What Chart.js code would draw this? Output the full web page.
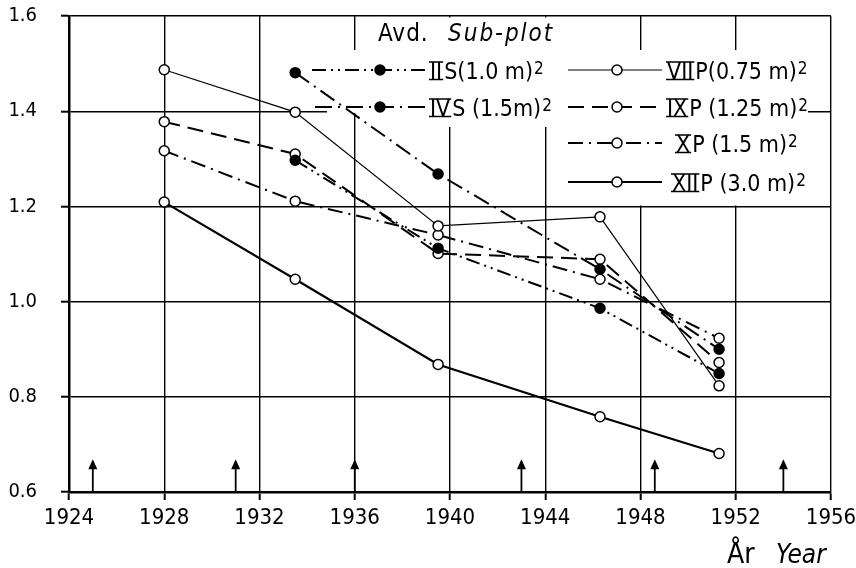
<!DOCTYPE html>
<html>
<head>
<meta charset="utf-8">
<script src="https://cdn.jsdelivr.net/npm/chart.js@4.4.0/dist/chart.umd.min.js"></script>
<style>
  html, body { margin: 0; padding: 0; background: #fff; }
</style>
</head>
<body>
<canvas id="chart" width="856" height="568"></canvas>
<script>
// Measurement years (x) and mean values per sub-plot
const years = [1928, 1933.5, 1939.5, 1946.3, 1951.3];
const subplotII = [null, 1.297, 1.112, 0.986, 0.849];
const subplotIV = [null, 1.481, 1.268, 1.068, 0.900];
const subplotVII = [1.487, 1.398, 1.159, 1.178, 0.823];
const subplotIX = [1.378, 1.310, 1.101, 1.089, 0.872];
const subplotX = [1.317, 1.211, 1.140, 1.047, 0.923];
const subplotXII = [1.209, 1.047, 0.868, 0.758, 0.681];

// Years marked with an arrow on the base line
const arrowYears = [1925, 1931, 1936, 1943, 1948.6, 1954];

// Axis ticks
const xTicks = [1924, 1928, 1932, 1936, 1940, 1944, 1948, 1952, 1956];
const yTicks = [0.6, 0.8, 1.0, 1.2, 1.4, 1.6];

// Legend text
const numerals = ["II", "IV", "VII", "IX", "X", "XII"];
const plotNames = ["S(1.0 m)", "S (1.5m)", "P(0.75 m)", "P (1.25 m)", "P (1.5 m)", "P (3.0 m)"];

const FONT = '"DejaVu Sans Condensed", "Liberation Sans Narrow", "Liberation Sans", sans-serif';

const lineStyles = [
  { dash: [14, 5, 2, 5, 2, 5], width: 2, filled: true },
  { dash: [17, 6, 2, 6], width: 2, filled: true },
  { dash: [], width: 1.2, filled: false },
  { dash: [16, 8], width: 2, filled: false },
  { dash: [15, 6, 2, 6], width: 2, filled: false },
  { dash: [], width: 2.2, filled: false },
];

const seriesValues = [subplotII, subplotIV, subplotVII, subplotIX, subplotX, subplotXII];

const toPoints = (values) =>
  years.map((x, i) => ({ x, y: values[i] })).filter((p) => p.y !== null);

const datasets = seriesValues.map((values, i) => ({
  label: numerals[i] + " " + plotNames[i],
  data: toPoints(values),
  borderColor: "#000",
  borderWidth: lineStyles[i].width,
  borderDash: lineStyles[i].dash,
  borderCapStyle: "butt",
  pointRadius: 5,
  pointBorderWidth: 1.5,
  pointBorderColor: "#000",
  pointBackgroundColor: lineStyles[i].filled ? "#000" : "#fff",
  fill: false,
  tension: 0,
}));

/**
 * Draws a legend label with a barred roman numeral and a superscript 2
 */
const drawSeriesLabel = (ctx, x, baseline, numeral, rest) => {
  ctx.font = `23px ${FONT}`;
  ctx.textAlign = "left";
  ctx.textBaseline = "alphabetic";
  ctx.fillStyle = "#000";
  const nw = ctx.measureText(numeral).width;
  ctx.fillText(numeral, x, baseline);
  ctx.setLineDash([]);
  ctx.lineWidth = 1.6;
  ctx.beginPath();
  ctx.moveTo(x - 1, baseline - 17);
  ctx.lineTo(x + nw + 1, baseline - 17);
  ctx.moveTo(x - 1, baseline + 0.5);
  ctx.lineTo(x + nw + 1, baseline + 0.5);
  ctx.stroke();
  let cx = x + nw + 2;
  ctx.fillText(rest, cx, baseline);
  cx += ctx.measureText(rest).width + 1;
  ctx.font = `17px ${FONT}`;
  ctx.fillText("2", cx, baseline - 5);
};

// Legend rows: line start/end, row centre, marker and text positions
const legendRows = [
  { x0: 312, x1: 425, y: 70, mx: 380, tx: 430 },
  { x0: 315, x1: 425, y: 107, mx: 380, tx: 430 },
  { x0: 568, x1: 662, y: 70, mx: 617, tx: 667 },
  { x0: 568, x1: 662, y: 107, mx: 617, tx: 667 },
  { x0: 568, x1: 662, y: 143, mx: 617, tx: 676 },
  { x0: 568, x1: 662, y: 182, mx: 617, tx: 672 },
];

const legendPlugin = {
  id: "insetLegend",
  beforeDatasetsDraw(chart) {
    const { ctx } = chart;
    ctx.save();
    ctx.fillStyle = "#fff";
    ctx.fillRect(327, 50, 481, 63);
    ctx.fillRect(365, 17.5, 205, 33);
    ctx.fillRect(400, 113, 408, 14);
    ctx.fillRect(560, 127, 248, 78.5);

    ctx.fillStyle = "#000";
    ctx.textBaseline = "alphabetic";
    ctx.font = `24px ${FONT}`;
    ctx.letterSpacing = "1px";
    ctx.fillText("Avd.", 378, 41);
    ctx.font = `italic 24px ${FONT}`;
    ctx.letterSpacing = "2px";
    ctx.fillText("Sub-plot", 448, 41);
    ctx.letterSpacing = "0px";

    legendRows.forEach((row, i) => {
      const style = lineStyles[i];
      ctx.strokeStyle = "#000";
      ctx.lineWidth = style.width;
      ctx.setLineDash(style.dash);
      ctx.beginPath();
      ctx.moveTo(row.x0, row.y);
      ctx.lineTo(row.x1, row.y);
      ctx.stroke();
      ctx.setLineDash([]);
      ctx.beginPath();
      ctx.arc(row.mx, row.y, 5, 0, Math.PI * 2);
      ctx.fillStyle = style.filled ? "#000" : "#fff";
      ctx.fill();
      ctx.lineWidth = 1.5;
      ctx.stroke();
      drawSeriesLabel(ctx, row.tx, row.y + 9, numerals[i], plotNames[i]);
    });
    ctx.restore();
  },
};

const arrowPlugin = {
  id: "arrows",
  afterDatasetsDraw(chart) {
    const { ctx, scales } = chart;
    const yBase = scales.y.getPixelForValue(0.6);
    const yTop = scales.y.getPixelForValue(0.669);
    ctx.save();
    ctx.strokeStyle = "#000";
    ctx.fillStyle = "#000";
    ctx.lineWidth = 1.8;
    arrowYears.forEach((yr) => {
      const px = scales.x.getPixelForValue(yr);
      ctx.beginPath();
      ctx.moveTo(px, yBase);
      ctx.lineTo(px, yTop + 6);
      ctx.stroke();
      ctx.beginPath();
      ctx.moveTo(px, yTop);
      ctx.lineTo(px - 4.5, yTop + 10);
      ctx.lineTo(px + 4.5, yTop + 10);
      ctx.closePath();
      ctx.fill();
    });
    ctx.restore();
  },
};

const axisTitlePlugin = {
  id: "axisTitle",
  afterDraw(chart) {
    const { ctx } = chart;
    ctx.save();
    ctx.fillStyle = "#000";
    ctx.textAlign = "left";
    ctx.textBaseline = "alphabetic";
    ctx.font = `28px ${FONT}`;
    ctx.fillText("År", 727, 563);
    ctx.font = `italic 26px ${FONT}`;
    ctx.fillText("Year", 776, 563);
    ctx.restore();
  },
};

const ctx = document.getElementById("chart").getContext("2d");

new Chart(ctx, {
  type: "line",
  data: { datasets },
  options: {
    responsive: false,
    animation: false,
    layout: { padding: { top: 16, right: 25, left: 0, bottom: 0 } },
    plugins: {
      legend: { display: false },
      tooltip: { enabled: false },
    },
    scales: {
      x: {
        type: "linear",
        min: 1924,
        max: 1956,
        afterBuildTicks: (axis) => {
          axis.ticks = xTicks.map((value) => ({ value }));
        },
        afterFit: (scale) => {
          scale.height = 76;
          scale.paddingLeft = 0;
          scale.paddingRight = 0;
        },
        grid: { color: "#000", lineWidth: 1.4, tickLength: 8, tickColor: "#000", tickWidth: 2 },
        border: { color: "#000", width: 2.5 },
        ticks: {
          color: "#000",
          font: { family: FONT, size: 22 },
          padding: 5,
          maxRotation: 0,
          autoSkip: false,
          callback: (value) => String(value),
        },
      },
      y: {
        min: 0.6,
        max: 1.6,
        afterBuildTicks: (axis) => {
          axis.ticks = yTicks.map((value) => ({ value }));
        },
        afterFit: (scale) => {
          scale.width = 69;
          scale.paddingTop = 0;
          scale.paddingBottom = 0;
        },
        grid: { color: "#000", lineWidth: 1.4, tickLength: 8, tickColor: "#000", tickWidth: 2 },
        border: { color: "#000", width: 2.5 },
        ticks: {
          color: "#000",
          font: { family: FONT, size: 20 },
          padding: 24,
          callback: (value) => Number(value).toFixed(1),
        },
      },
    },
  },
  plugins: [legendPlugin, arrowPlugin, axisTitlePlugin],
});
</script>
</body>
</html>
